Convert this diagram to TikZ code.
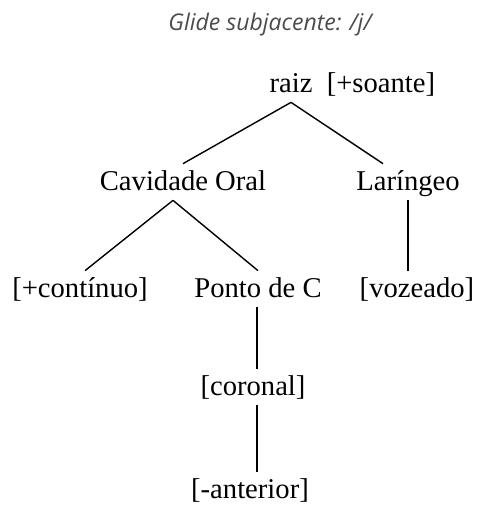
\documentclass[tikz,border=0pt]{standalone}
\usepackage{fontspec}
\setmainfont{Liberation Serif}
\newfontfamily\titlefont{Open Sans}
\usepackage{tikz}
\usetikzlibrary{calc}

\tikzset{
  feat/.style={anchor=base, inner sep=0.1cm, text height=0.42cm, text depth=0.1cm,
    font=\fontsize{16.3}{19}\selectfont},
  branch/.style={black, line width=0.8pt}
}

\begin{document}
\begin{tikzpicture}
				\useasboundingbox (0,0) rectangle (9.56,-10.12);
				\node[anchor=base, text=black!70, font=\titlefont\itshape\fontsize{13.1}{16}\selectfont] (title) at (5.4,-0.6) {Glide subjacente: /j/};
				% arvore
				\node[feat] (raiz) at (5.82,-1.84) {raiz};
				\node[feat] (soante) at (7.62,-1.84) {[+soante]};
				\node[feat] (cav) at (3.66,-3.8) {Cavidade Oral};
				\node[feat] (lar) at (8.16,-3.8) {Laríngeo};
				\node[feat] (cont) at (1.6,-5.94) {[+contínuo]};
				\node[feat] (pc) at (5.16,-5.94) {Ponto de C};
				\node[feat] (voz) at (8.34,-5.94) {[vozeado]};
				\node[feat] (cor) at (5.06,-7.9) {[coronal]};
				\node[feat] (ant) at (5.0,-9.96) {[-anterior]};
				\draw[branch] (raiz.south) -- (cav.north);
				\draw[branch] (raiz.south) -- ([xshift=-0.5cm]lar.north);
				\draw[branch] ([xshift=-0.2cm]cav.south) -- ([xshift=0.1cm]cont.north);
				\draw[branch] ([xshift=-0.2cm]cav.south) -- (pc.north);
				\draw[branch] (lar.south) -- (lar.south |- voz.north);
				\draw[branch] ([xshift=-0.02cm]pc.south) -- ([xshift=-0.02cm]pc.south |- cor.north);
				\draw[branch] ([xshift=-0.02cm]pc.south |- cor.south) -- ([xshift=-0.02cm]pc.south |- ant.north);
\end{tikzpicture}
\end{document}
